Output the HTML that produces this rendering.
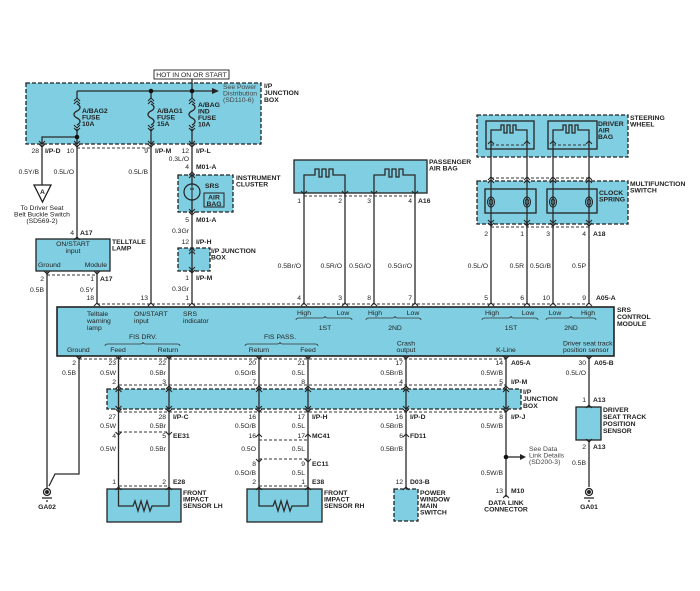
<!DOCTYPE html>
<html><head><meta charset="utf-8"><style>
html,body{margin:0;padding:0;background:#fff;}
svg{display:block}
text{font-family:"Liberation Sans",Arial,sans-serif;font-size:6.8px;fill:#222}
.b{font-weight:bold}
.e{text-anchor:end}
.m{text-anchor:middle}
.g{fill:#444}
</style></head><body>
<svg width="700" height="591" viewBox="0 0 700 591" xmlns="http://www.w3.org/2000/svg">
<defs>
<path id="cu" d="M-3,3 L0,0 L3,3" fill="none" stroke="#222" stroke-width="1"/>
<path id="cd" d="M-3,-3 L0,0 L3,-3" fill="none" stroke="#222" stroke-width="1"/>
</defs>
<rect width="700" height="591" fill="#fff"/>

<!-- Boxes -->
<g stroke="#222" stroke-width="1.3" fill="#80CEE1">
<rect x="26" y="83" width="235" height="61" stroke-dasharray="4,2"/>
<rect x="178" y="175" width="55" height="37" stroke-dasharray="4,2"/>
<rect x="178" y="248" width="32" height="23" stroke-dasharray="4,2"/>
<rect x="36" y="239" width="74" height="32"/>
<rect x="294" y="160" width="133" height="33"/>
<rect x="477" y="115" width="151" height="42" stroke-dasharray="4,2"/>
<rect x="486" y="121" width="48" height="28"/>
<rect x="548" y="121" width="49" height="28"/>
<rect x="477" y="181" width="151" height="43" stroke-dasharray="4,2"/>
<rect x="485" y="189" width="51" height="24"/>
<rect x="547" y="189" width="50" height="24"/>
<rect x="57" y="307" width="557" height="49" stroke-width="1.6"/>
<rect x="107" y="389" width="414" height="20" stroke-dasharray="4,2"/>
<rect x="576" y="407" width="25" height="33"/>
<rect x="107" y="489" width="74" height="33"/>
<rect x="247" y="489" width="75" height="33"/>
<rect x="394" y="489" width="24" height="32" stroke-dasharray="4,2"/>
</g>
<rect x="154" y="70" width="75" height="9" fill="#fff" stroke="#222" stroke-width="0.9"/>
<text x="191.5" y="77" class="m">HOT IN ON OR START</text>

<!-- Dashed connector lines -->
<g stroke="#333" stroke-width="0.9" stroke-dasharray="3,2" fill="none">
<path d="M77,148 H151"/>
<path d="M304,196 H415"/>
<path d="M491,145 H527 M553,145 H589"/>
<path d="M491,178 H589"/>
<path d="M491,227 H589"/>
<path d="M47,275 H97"/>
<path d="M97,304 H588"/>
<path d="M79,359 H506"/>
<path d="M119,385 H506"/>
<path d="M119,412 H506"/>
<path d="M119,432 H169"/>
<path d="M259,440 H308"/>
<path d="M259,459 H308"/>
<path d="M119,486 H169"/>
<path d="M259,486 H308"/>
</g>

<!-- Wires -->
<g stroke="#2a2a2a" stroke-width="1.3" fill="none">
<path d="M192,79 V98"/>
<path d="M77,91 H213"/>
<path d="M77,91 V98 M151,91 V98"/>
<!-- fuses -->
<path d="M77,104 c4,2 4,5 0,7 c-4,2 -4,5 0,7 c4,2 4,5 0,7"/>
<path d="M151,104 c4,2 4,5 0,7 c-4,2 -4,5 0,7 c4,2 4,5 0,7"/>
<path d="M192,104 c4,2 4,5 0,7 c-4,2 -4,5 0,7 c4,2 4,5 0,7"/>
<path d="M77,129 V239"/>
<path d="M77,137 H42 V185"/>
<path d="M151,129 V304"/>
<path d="M192,129 V184 M192,200 V304"/>
<path d="M97,271 V304"/>
<path d="M47,271 V488"/>
<path d="M79,356 V474 H55 L49,486"/>
<!-- passenger air bag -->
<path d="M304,190 V175 H315 V169 H319 V177 H322 V169 H326 V177 H329 V169 H333 V175 H345 V190"/>
<path d="M374,190 V175 H385 V169 H389 V177 H392 V169 H396 V177 H399 V169 H403 V175 H415 V190"/>
<path d="M304,190 V304 M345,190 V304 M374,190 V304 M415,190 V304"/>
<!-- driver air bag -->
<path d="M491,142 V130 H501 V125 H504 V133 H507 V125 H510 V133 H513 V125 H516 V130 H527 V142"/>
<path d="M553,142 V130 H563 V125 H566 V133 H569 V125 H572 V133 H575 V125 H578 V130 H589 V142"/>
<path d="M491,142 V304 M527,142 V304 M553,142 V304 M589,142 V304"/>
<!-- lower wires -->
<path d="M118.5,356 V489 M169,356 V489 M259,356 V489 M308,356 V489 M406,356 V489 M506,356 V497 M589,356 V407 M589,440 V487"/>
<path d="M506,457 H520"/>
<!-- sensors -->
<path d="M118.5,489 V506 H133 L135,501 L138,511 L141,501 L144,511 L147,501 L150,511 L152,506 H169 V489"/>
<path d="M259,489 V506 H273 L275,501 L278,511 L281,501 L284,511 L287,501 L290,511 L292,506 H308 V489"/>
</g>
<polygon points="212,88 219,91 212,94" fill="#222"/>
<polygon points="520,454 526,457 520,460" fill="#222"/>
<circle cx="151" cy="91" r="2.3" fill="#111"/>
<circle cx="192" cy="91" r="2.3" fill="#111"/>
<circle cx="77" cy="137" r="2.3" fill="#111"/>
<circle cx="506" cy="457" r="2.3" fill="#111"/>

<!-- SRS bulb -->
<circle cx="192" cy="192" r="8" fill="#80CEE1" stroke="#222" stroke-width="1.2"/>
<path d="M192,184 V189 M190,189 H194 M192,189 V195 M192,195 V200" stroke="#222" stroke-width="1" fill="none"/>
<rect x="204" y="193" width="20" height="14" fill="none" stroke="#222" stroke-width="1"/>

<!-- clock springs -->
<g fill="none" stroke="#222" stroke-width="1">
<ellipse cx="491" cy="202" rx="3.5" ry="5"/><ellipse cx="491" cy="202" rx="1.8" ry="3"/>
<ellipse cx="527" cy="202" rx="3.5" ry="5"/><ellipse cx="527" cy="202" rx="1.8" ry="3"/>
<ellipse cx="553" cy="202" rx="3.5" ry="5"/><ellipse cx="553" cy="202" rx="1.8" ry="3"/>
<ellipse cx="589" cy="202" rx="3.5" ry="5"/><ellipse cx="589" cy="202" rx="1.8" ry="3"/>
</g>

<!-- triangle A -->
<polygon points="34,185 51,185 42.5,202" fill="#fff" stroke="#222" stroke-width="1.3"/>
<text x="42.5" y="194" class="m b">A</text>

<!-- grounds -->
<g stroke="#222" stroke-width="1.3">
<circle cx="47" cy="492" r="3.5" fill="#fff"/>
<circle cx="47" cy="492" r="1.3" fill="#222"/>
<path d="M42,498 H52 M46,501 H48"/>
<circle cx="589" cy="492" r="3.5" fill="#fff"/>
<circle cx="589" cy="492" r="1.3" fill="#222"/>
<path d="M584,498 H594 M588,501 H590"/>
</g>

<!-- Chevrons -->
<g>
<!-- fuses -->
<use href="#cu" x="77" y="98"/><use href="#cu" x="77" y="101"/><use href="#cd" x="77" y="128"/><use href="#cd" x="77" y="131"/>
<use href="#cu" x="151" y="98"/><use href="#cu" x="151" y="101"/><use href="#cd" x="151" y="128"/><use href="#cd" x="151" y="131"/>
<use href="#cu" x="192" y="98"/><use href="#cu" x="192" y="101"/><use href="#cd" x="192" y="128"/><use href="#cd" x="192" y="131"/>
<!-- JB bottom -->
<use href="#cd" x="42" y="144"/><use href="#cd" x="42" y="147"/>
<use href="#cd" x="77" y="144"/><use href="#cd" x="77" y="147"/>
<use href="#cd" x="151" y="144"/><use href="#cd" x="151" y="147"/>
<use href="#cd" x="192" y="144"/><use href="#cd" x="192" y="147"/>
<!-- cluster -->
<use href="#cu" x="192" y="172"/><use href="#cu" x="192" y="175"/>
<use href="#cd" x="192" y="212"/><use href="#cd" x="192" y="215"/>
<use href="#cu" x="192" y="248"/><use href="#cu" x="192" y="251"/>
<use href="#cd" x="192" y="270"/><use href="#cd" x="192" y="273"/>
<!-- lamp -->
<use href="#cu" x="77" y="237"/>
<use href="#cd" x="47" y="274"/><use href="#cd" x="97" y="274"/>
<!-- passenger -->
<use href="#cd" x="304" y="194"/><use href="#cd" x="345" y="194"/><use href="#cd" x="374" y="194"/><use href="#cd" x="415" y="194"/>
<!-- steering -->
<use href="#cu" x="491" y="141"/><use href="#cu" x="527" y="141"/><use href="#cu" x="553" y="141"/><use href="#cu" x="589" y="141"/>
<use href="#cu" x="491" y="177"/><use href="#cu" x="527" y="177"/><use href="#cu" x="553" y="177"/><use href="#cu" x="589" y="177"/>
<use href="#cu" x="491" y="180"/><use href="#cu" x="527" y="180"/><use href="#cu" x="553" y="180"/><use href="#cu" x="589" y="180"/>
<use href="#cd" x="491" y="223"/><use href="#cd" x="527" y="223"/><use href="#cd" x="553" y="223"/><use href="#cd" x="589" y="223"/>
<use href="#cd" x="491" y="226"/><use href="#cd" x="527" y="226"/><use href="#cd" x="553" y="226"/><use href="#cd" x="589" y="226"/>
<!-- module top -->
<use href="#cu" x="97" y="303"/><use href="#cu" x="151" y="303"/><use href="#cu" x="192" y="303"/>
<use href="#cu" x="304" y="303"/><use href="#cu" x="345" y="303"/><use href="#cu" x="374" y="303"/><use href="#cu" x="415" y="303"/>
<use href="#cu" x="491" y="303"/><use href="#cu" x="527" y="303"/><use href="#cu" x="553" y="303"/><use href="#cu" x="589" y="303"/>
<!-- module bottom -->
<use href="#cd" x="79" y="359"/><use href="#cd" x="118.5" y="359"/><use href="#cd" x="169" y="359"/><use href="#cd" x="259" y="359"/>
<use href="#cd" x="308" y="359"/><use href="#cd" x="406" y="359"/><use href="#cd" x="506" y="359"/><use href="#cd" x="589" y="359"/>
<!-- JB band -->
<use href="#cu" x="118.5" y="386"/><use href="#cu" x="118.5" y="389"/><use href="#cd" x="118.5" y="409"/><use href="#cd" x="118.5" y="412"/>
<use href="#cu" x="169" y="386"/><use href="#cu" x="169" y="389"/><use href="#cd" x="169" y="409"/><use href="#cd" x="169" y="412"/>
<use href="#cu" x="259" y="386"/><use href="#cu" x="259" y="389"/><use href="#cd" x="259" y="409"/><use href="#cd" x="259" y="412"/>
<use href="#cu" x="308" y="386"/><use href="#cu" x="308" y="389"/><use href="#cd" x="308" y="409"/><use href="#cd" x="308" y="412"/>
<use href="#cu" x="406" y="386"/><use href="#cu" x="406" y="389"/><use href="#cd" x="406" y="409"/><use href="#cd" x="406" y="412"/>
<use href="#cu" x="506" y="386"/><use href="#cu" x="506" y="389"/><use href="#cd" x="506" y="409"/><use href="#cd" x="506" y="412"/>
<!-- inline connectors -->
<use href="#cd" x="118.5" y="435"/><use href="#cd" x="169" y="435"/>
<use href="#cu" x="259" y="434"/><use href="#cu" x="308" y="434"/><use href="#cu" x="406" y="434"/>
<use href="#cd" x="259" y="462"/><use href="#cd" x="308" y="462"/>
<use href="#cu" x="118.5" y="487"/><use href="#cu" x="169" y="487"/><use href="#cu" x="259" y="487"/><use href="#cu" x="308" y="487"/><use href="#cu" x="406" y="487"/>
<use href="#cu" x="589" y="405"/><use href="#cd" x="589" y="442"/>
<use href="#cu" x="506" y="495"/>
</g>

<!-- Top JB labels -->
<text x="264" y="88" class="b">I/P</text>
<text x="264" y="95" class="b">JUNCTION</text>
<text x="264" y="102" class="b">BOX</text>
<text x="223" y="89" class="g">See Power</text>
<text x="223" y="95.5" class="g">Distribution</text>
<text x="223" y="102" class="g">(SD110-6)</text>
<text x="82" y="113" class="b">A/BAG2</text>
<text x="82" y="119.5" class="b">FUSE</text>
<text x="82" y="126" class="b">10A</text>
<text x="157" y="113" class="b">A/BAG1</text>
<text x="157" y="119.5" class="b">FUSE</text>
<text x="157" y="126" class="b">15A</text>
<text x="198" y="107" class="b">A/BAG</text>
<text x="198" y="113.5" class="b">IND</text>
<text x="198" y="120" class="b">FUSE</text>
<text x="198" y="126.5" class="b">10A</text>

<text x="39" y="153" class="e">28</text><text x="45" y="153" class="b">I/P-D</text>
<text x="74" y="153" class="e">10</text>
<text x="148" y="153" class="e">9</text><text x="155" y="153" class="b">I/P-M</text>
<text x="189" y="153" class="e">12</text><text x="196" y="153" class="b">I/P-L</text>
<text x="189" y="161" class="e">0.3L/O</text>
<text x="39" y="174" class="e">0.5Y/B</text>
<text x="74" y="174" class="e">0.5L/O</text>
<text x="148" y="174" class="e">0.5L/B</text>

<text x="42" y="210" class="m">To Driver Seat</text>
<text x="42" y="216.5" class="m">Belt Buckle Switch</text>
<text x="42" y="223" class="m">(SD569-2)</text>

<!-- cluster -->
<text x="189" y="169" class="e">4</text><text x="196" y="169" class="b">M01-A</text>
<text x="205" y="188" class="b">SRS</text>
<text x="214" y="199.5" class="m b">AIR</text>
<text x="214" y="206" class="m b">BAG</text>
<text x="236" y="180" class="b">INSTRUMENT</text>
<text x="236" y="186.5" class="b">CLUSTER</text>
<text x="189" y="222" class="e">5</text><text x="196" y="222" class="b">M01-A</text>
<text x="189" y="233" class="e">0.3Gr</text>
<text x="189" y="244" class="e">12</text><text x="196" y="244" class="b">I/P-H</text>
<text x="211" y="253" class="b">I/P JUNCTION</text>
<text x="211" y="259.5" class="b">BOX</text>
<text x="189" y="280" class="e">1</text><text x="196" y="280" class="b">I/P-M</text>
<text x="189" y="291" class="e">0.3Gr</text>

<!-- lamp -->
<text x="74" y="235" class="e">4</text><text x="80" y="235" class="b">A17</text>
<text x="73" y="246" class="m">ON/START</text>
<text x="73" y="253" class="m">input</text>
<text x="38" y="267">Ground</text>
<text x="107" y="267" class="e">Module</text>
<text x="112" y="244" class="b">TELLTALE</text>
<text x="112" y="250.5" class="b">LAMP</text>
<text x="44" y="281" class="e">2</text>
<text x="94" y="281" class="e">1</text><text x="100" y="281" class="b">A17</text>
<text x="44" y="292" class="e">0.5B</text>
<text x="94" y="292" class="e">0.5Y</text>

<!-- passenger -->
<text x="429" y="164" class="b">PASSENGER</text>
<text x="429" y="170.5" class="b">AIR BAG</text>
<text x="301" y="203" class="e">1</text>
<text x="342" y="203" class="e">2</text>
<text x="371" y="203" class="e">3</text>
<text x="412" y="203" class="e">4</text><text x="418" y="203" class="b">A16</text>
<text x="301" y="268" class="e">0.5Br/O</text>
<text x="342" y="268" class="e">0.5R/O</text>
<text x="371" y="268" class="e">0.5G/O</text>
<text x="412" y="268" class="e">0.5Gr/O</text>

<!-- steering -->
<text x="630" y="120" class="b">STEERING</text>
<text x="630" y="126.5" class="b">WHEEL</text>
<text x="598" y="126" class="b">DRIVER</text>
<text x="598" y="132.5" class="b">AIR</text>
<text x="598" y="139" class="b">BAG</text>
<text x="630" y="186" class="b">MULTIFUNCTION</text>
<text x="630" y="192.5" class="b">SWITCH</text>
<text x="599" y="195" class="b">CLOCK</text>
<text x="599" y="201.5" class="b">SPRING</text>
<text x="488" y="236" class="e">2</text>
<text x="524" y="236" class="e">1</text>
<text x="550" y="236" class="e">3</text>
<text x="586" y="236" class="e">4</text><text x="593" y="236" class="b">A18</text>
<text x="488" y="268" class="e">0.5L/O</text>
<text x="524" y="268" class="e">0.5R</text>
<text x="551" y="268" class="e">0.5G/B</text>
<text x="586" y="268" class="e">0.5P</text>

<!-- module top pin labels -->
<text x="94" y="300" class="e">18</text>
<text x="148" y="300" class="e">13</text>
<text x="189" y="300" class="e">1</text>
<text x="301" y="300" class="e">4</text>
<text x="342" y="300" class="e">3</text>
<text x="371" y="300" class="e">8</text>
<text x="412" y="300" class="e">7</text>
<text x="488" y="300" class="e">5</text>
<text x="524" y="300" class="e">6</text>
<text x="550" y="300" class="e">10</text>
<text x="586" y="300" class="e">9</text><text x="596" y="300" class="b">A05-A</text>

<!-- module text -->
<text x="617" y="312" class="b">SRS</text>
<text x="617" y="319" class="b">CONTROL</text>
<text x="617" y="326" class="b">MODULE</text>
<text x="87" y="316">Telltale</text>
<text x="87" y="323">warning</text>
<text x="87" y="330">lamp</text>
<text x="134" y="316">ON/START</text>
<text x="134" y="323">input</text>
<text x="183" y="316">SRS</text>
<text x="183" y="323">indicator</text>
<text x="304" y="315" class="m">High</text>
<text x="343" y="315" class="m">Low</text>
<text x="325" y="330" class="m">1ST</text>
<text x="375" y="315" class="m">High</text>
<text x="413" y="315" class="m">Low</text>
<text x="395" y="330" class="m">2ND</text>
<text x="492" y="315" class="m">High</text>
<text x="528" y="315" class="m">Low</text>
<text x="511" y="330" class="m">1ST</text>
<text x="555" y="315" class="m">Low</text>
<text x="588" y="315" class="m">High</text>
<text x="571" y="330" class="m">2ND</text>
<text x="143" y="339" class="m">FIS DRV.</text>
<text x="280" y="339" class="m">FIS PASS.</text>
<text x="67" y="352">Ground</text>
<text x="118" y="352" class="m">Feed</text>
<text x="168" y="352" class="m">Return</text>
<text x="259" y="352" class="m">Return</text>
<text x="308" y="352" class="m">Feed</text>
<text x="406" y="345.5" class="m">Crash</text>
<text x="406" y="352" class="m">output</text>
<text x="506" y="352" class="m">K-Line</text>
<text x="563" y="345.5">Driver seat track</text>
<text x="563" y="352">position sensor</text>
<!-- braces -->
<g fill="none" stroke="#333" stroke-width="0.8">
<path d="M296,320 q0,-2 3,-2 H322 q3,0 3,-2 q0,2 3,2 H349 q3,0 3,2"/>
<path d="M366,320 q0,-2 3,-2 H392 q3,0 3,-2 q0,2 3,2 H418 q3,0 3,2"/>
<path d="M482,320 q0,-2 3,-2 H508 q3,0 3,-2 q0,2 3,2 H535 q3,0 3,2"/>
<path d="M546,320 q0,-2 3,-2 H568 q3,0 3,-2 q0,2 3,2 H593 q3,0 3,2"/>
<path d="M105,346 q0,-2 3,-2 H140 q3,0 3,-2 q0,2 3,2 H177 q3,0 3,2"/>
<path d="M245,346 q0,-2 3,-2 H277 q3,0 3,-2 q0,2 3,2 H315 q3,0 3,2"/>
</g>

<!-- module bottom labels -->
<text x="76" y="365" class="e">2</text>
<text x="116" y="365" class="e">23</text>
<text x="166" y="365" class="e">22</text>
<text x="256" y="365" class="e">20</text>
<text x="305" y="365" class="e">21</text>
<text x="403" y="365" class="e">17</text>
<text x="503" y="365" class="e">14</text><text x="511" y="365" class="b">A05-A</text>
<text x="586" y="365" class="e">30</text><text x="594" y="365" class="b">A05-B</text>
<text x="76" y="375" class="e">0.5B</text>
<text x="116" y="375" class="e">0.5W</text>
<text x="166" y="375" class="e">0.5Br</text>
<text x="256" y="375" class="e">0.5O/B</text>
<text x="305" y="375" class="e">0.5L</text>
<text x="403" y="375" class="e">0.5Br/B</text>
<text x="503" y="375" class="e">0.5W/B</text>
<text x="586" y="375" class="e">0.5L/O</text>
<text x="116" y="384" class="e">2</text>
<text x="166" y="384" class="e">3</text>
<text x="256" y="384" class="e">7</text>
<text x="305" y="384" class="e">8</text>
<text x="403" y="384" class="e">4</text>
<text x="503" y="384" class="e">5</text><text x="511" y="384" class="b">I/P-M</text>
<text x="523" y="394" class="b">I/P</text>
<text x="523" y="401" class="b">JUNCTION</text>
<text x="523" y="408" class="b">BOX</text>
<text x="116" y="419" class="e">27</text>
<text x="166" y="419" class="e">28</text><text x="173" y="419" class="b">I/P-C</text>
<text x="256" y="419" class="e">16</text>
<text x="305" y="419" class="e">17</text><text x="312" y="419" class="b">I/P-H</text>
<text x="403" y="419" class="e">16</text><text x="410" y="419" class="b">I/P-D</text>
<text x="503" y="419" class="e">8</text><text x="511" y="419" class="b">I/P-J</text>
<text x="116" y="428" class="e">0.5W</text>
<text x="166" y="428" class="e">0.5Br</text>
<text x="256" y="428" class="e">0.5O/B</text>
<text x="305" y="428" class="e">0.5L</text>
<text x="403" y="428" class="e">0.5Br/B</text>
<text x="503" y="428" class="e">0.5W/B</text>
<text x="116" y="438" class="e">4</text>
<text x="166" y="438" class="e">5</text><text x="173" y="438" class="b">EE31</text>
<text x="256" y="438" class="e">16</text>
<text x="305" y="438" class="e">17</text><text x="312" y="438" class="b">MC41</text>
<text x="403" y="438" class="e">6</text><text x="410" y="438" class="b">FD11</text>
<text x="116" y="451" class="e">0.5W</text>
<text x="166" y="451" class="e">0.5Br</text>
<text x="256" y="451" class="e">0.5O</text>
<text x="305" y="451" class="e">0.5L</text>
<text x="403" y="451" class="e">0.5Br/B</text>
<text x="256" y="466" class="e">8</text>
<text x="305" y="466" class="e">9</text><text x="312" y="466" class="b">EC11</text>
<text x="256" y="475" class="e">0.5O/B</text>
<text x="305" y="475" class="e">0.5L</text>
<text x="116" y="484" class="e">1</text>
<text x="166" y="484" class="e">2</text><text x="173" y="484" class="b">E28</text>
<text x="256" y="484" class="e">2</text>
<text x="305" y="484" class="e">1</text><text x="312" y="484" class="b">E38</text>
<text x="403" y="484" class="e">12</text><text x="410" y="484" class="b">D03-B</text>

<text x="183" y="495" class="b">FRONT</text>
<text x="183" y="501.5" class="b">IMPACT</text>
<text x="183" y="508" class="b">SENSOR LH</text>
<text x="324" y="495" class="b">FRONT</text>
<text x="324" y="501.5" class="b">IMPACT</text>
<text x="324" y="508" class="b">SENSOR RH</text>
<text x="420" y="495" class="b">POWER</text>
<text x="420" y="501.5" class="b">WINDOW</text>
<text x="420" y="508" class="b">MAIN</text>
<text x="420" y="514.5" class="b">SWITCH</text>

<!-- right side -->
<text x="586" y="402" class="e">1</text><text x="593" y="402" class="b">A13</text>
<text x="603" y="412" class="b">DRIVER</text>
<text x="603" y="419" class="b">SEAT TRACK</text>
<text x="603" y="426" class="b">POSITION</text>
<text x="603" y="433" class="b">SENSOR</text>
<text x="586" y="449" class="e">2</text><text x="593" y="449" class="b">A13</text>
<text x="586" y="465" class="e">0.5B</text>
<text x="589" y="509" class="m b">GA01</text>
<text x="47" y="509" class="m b">GA02</text>
<text x="529" y="451" class="g">See Data</text>
<text x="529" y="457.5" class="g">Link Details</text>
<text x="529" y="464" class="g">(SD200-3)</text>
<text x="503" y="475" class="e">0.5W/B</text>
<text x="503" y="493" class="e">13</text><text x="511" y="493" class="b">M10</text>
<text x="506" y="505" class="m b">DATA LINK</text>
<text x="506" y="511.5" class="m b">CONNECTOR</text>
</svg>
</body></html>
